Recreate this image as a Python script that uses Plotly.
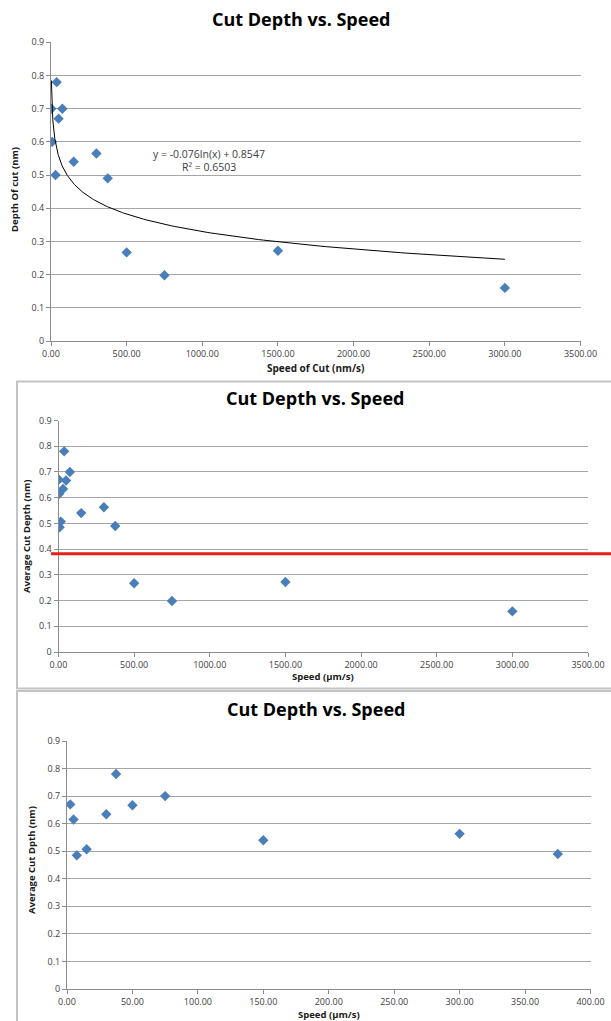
import numpy as np
import plotly.graph_objects as go

# ---------------- data ----------------
speed_1 = [2.5, 37.5, 75, 50, 7.5, 30, 150, 300, 375, 500, 750, 1500, 3000]
depth_1 = [0.70, 0.78, 0.70, 0.67, 0.60, 0.50, 0.54, 0.565, 0.49, 0.267, 0.198, 0.272, 0.16]

speed_2 = [2.5, 5, 7.5, 15, 30, 37.5, 50, 75, 150, 300, 375, 500, 750, 1500, 3000]
depth_2 = [0.67, 0.615, 0.485, 0.507, 0.634, 0.78, 0.667, 0.70, 0.54, 0.563, 0.49,
           0.267, 0.198, 0.272, 0.158]

speed_3 = [2.5, 5, 7.5, 15, 30, 37.5, 50, 75, 150, 300, 375]
depth_3 = [0.67, 0.615, 0.485, 0.507, 0.634, 0.78, 0.667, 0.70, 0.54, 0.563, 0.49]

trend_a = -0.076
trend_b = 0.8547
trend_r2 = 0.6503
trend_xmin, trend_xmax = 2.5, 3000
red_line_value = 0.382

title_text = "Cut Depth vs. Speed"

# ---------------- geometry helpers ----------------
W, H = 611, 1021
def px(x):
    return x / W
def py(y):
    return 1 - y / H

BLUE = "#4a7ebb"
GRID = "#a6a6a6"
TXT = "#404040"
FONT = "Open Sans"

fig = go.Figure()

marker = dict(symbol="diamond", size=8, color=BLUE, line=dict(width=0))

fig.add_trace(go.Scatter(x=speed_1, y=depth_1, mode="markers", marker=marker,
                         xaxis="x", yaxis="y", showlegend=False))
tx = np.geomspace(trend_xmin, trend_xmax, 300)
fig.add_trace(go.Scatter(x=tx, y=trend_a * np.log(tx) + trend_b, mode="lines",
                         line=dict(color="black", width=1), xaxis="x", yaxis="y",
                         showlegend=False))
fig.add_trace(go.Scatter(x=speed_2, y=depth_2, mode="markers", marker=marker,
                         xaxis="x2", yaxis="y2", showlegend=False))
fig.add_trace(go.Scatter(x=speed_3, y=depth_3, mode="markers", marker=marker,
                         xaxis="x3", yaxis="y3", showlegend=False))

def xax(domain, rng, dtick, anchor):
    return dict(domain=domain, range=rng, dtick=dtick, tick0=0, tickformat=".2f",
                showgrid=False, zeroline=False, showline=True, linecolor="#8c8c8c",
                linewidth=1, ticks="outside", ticklen=4, tickcolor="#8c8c8c",
                tickfont=dict(family=FONT, size=9, color=TXT), anchor=anchor,
                fixedrange=True, automargin=False)

def yax(domain, anchor):
    return dict(domain=domain, range=[0, 0.9], dtick=0.1, tick0=0,
                showgrid=True, gridcolor=GRID, gridwidth=1, zeroline=False,
                showline=True, linecolor="#8c8c8c", linewidth=1, ticks="outside",
                ticklen=4, tickcolor="#8c8c8c",
                tickfont=dict(family=FONT, size=9, color=TXT), anchor=anchor,
                fixedrange=True, automargin=False)

fig.update_layout(
    width=W, height=H, margin=dict(l=0, r=0, t=0, b=0, autoexpand=False),
    paper_bgcolor="white", plot_bgcolor="white",
    xaxis=xax([px(51), px(580.5)], [0, 3500], 500, "y"),
    yaxis=yax([py(341), py(42.3)], "x"),
    xaxis2=xax([px(58.5), px(588)], [0, 3500], 500, "y2"),
    yaxis2=yax([py(652), py(420.5)], "x2"),
    xaxis3=xax([px(67), px(590.5)], [0, 400], 50, "y3"),
    yaxis3=yax([py(989), py(741)], "x3"),
)

ann = []
def text(x, y, s, size=9, angle=0, color=TXT):
    ann.append(dict(x=px(x), y=py(y), xref="paper", yref="paper", text=s,
                    showarrow=False, textangle=angle, xanchor="center",
                    yanchor="middle",
                    font=dict(family=FONT, size=size, color=color)))

# titles
for (x, y) in [(301, 19), (315, 398), (316, 709)]:
    text(x, y, "<b>" + title_text + "</b>", size=18, color="black")

# axis titles
text(315, 368, "<b>Speed of Cut (nm/s)</b>", size=10, color="#1a1a1a")
text(14, 190, "<b>Depth Of cut (nm)</b>", size=9.5, angle=-90, color="#1a1a1a")
text(323, 676, "<b>Speed (µm/s)</b>", size=9.5, color="#1a1a1a")
text(26, 537, "<b>Average Cut Depth (nm)</b>", size=9.5, angle=-90, color="#1a1a1a")
text(329, 1014, "<b>Speed (µm/s)</b>", size=9.5, color="#1a1a1a")
text(31, 860, "<b>Average Cut Dpth (nm)</b>", size=9.5, angle=-90, color="#1a1a1a")

# trendline equation
text(209, 154, f"y = {trend_a}ln(x) + {trend_b}", size=10.5)
text(209, 166.5, f"R² = {trend_r2}", size=10.5)

fig.update_layout(annotations=ann)

shapes = [
    # frames of lower two charts
    dict(type="rect", xref="paper", yref="paper", x0=px(17), x1=px(640),
         y0=py(381.5), y1=py(688.5), line=dict(color="#c3c3c3", width=2)),
    dict(type="rect", xref="paper", yref="paper", x0=px(17), x1=px(640),
         y0=py(691), y1=py(1040), line=dict(color="#c3c3c3", width=2)),
    # red reference line
    dict(type="line", xref="paper", yref="y2", x0=px(51), x1=1.0,
         y0=red_line_value, y1=red_line_value, line=dict(color="#e3201b", width=3)),
]
fig.update_layout(shapes=shapes)

fig.write_html("out.html")
